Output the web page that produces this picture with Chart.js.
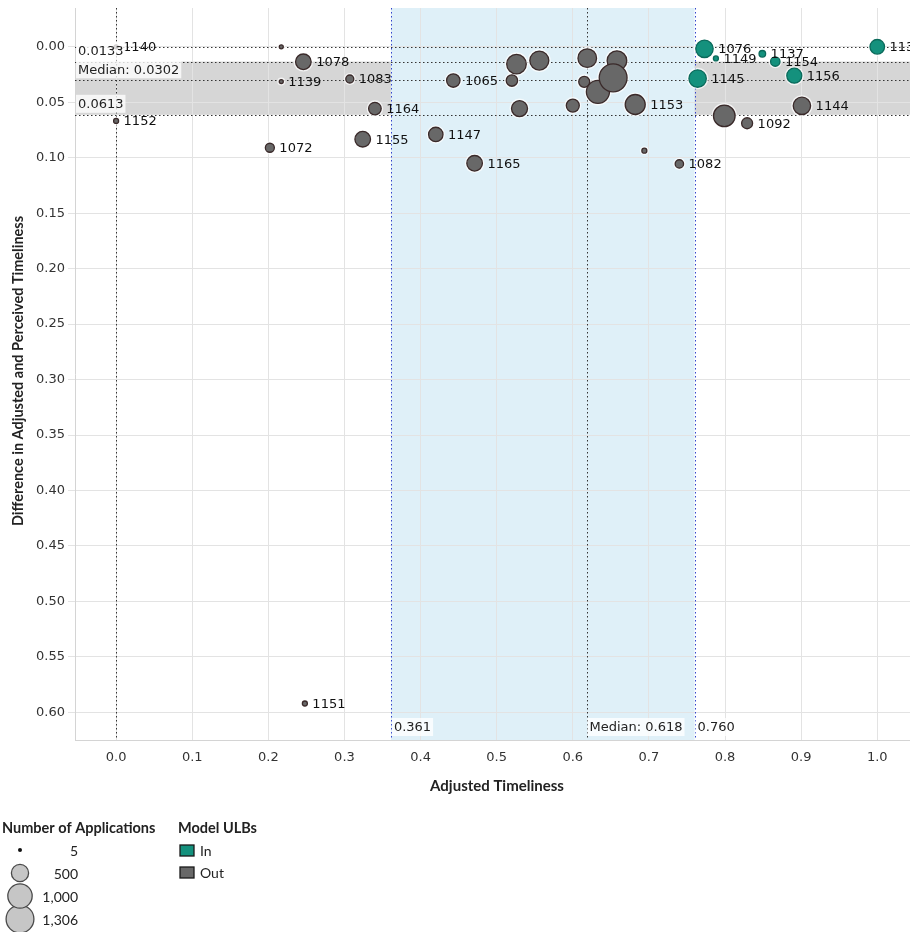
<!DOCTYPE html>
<html><head><meta charset="utf-8">
<script src="https://cdn.jsdelivr.net/npm/chart.js@4.4.1/dist/chart.umd.min.js"></script>
<style>html,body{margin:0;padding:0;background:#fff;}#wrap{position:relative;width:910px;height:932px;}</style>
</head><body><div id="wrap"><canvas id="c" width="910" height="932"></canvas></div>
<script>
// ---- data ----
const ulbIds = ['1140','','1078','1139','1083','1164','1155','1072','1152','1147','1165','1065','1151',
  '','','','','','','','','','','1153','','1082','','1092','1144',
  '1076','1149','1137','1154','1136','1145','1156'];
const timeliness = [0.000,0.217,0.246,0.217,0.307,0.340,0.324,0.202,0.000,0.420,0.471,0.443,0.248,
  0.526,0.520,0.556,0.530,0.600,0.619,0.658,0.615,0.633,0.653,0.682,0.694,0.740,0.799,0.829,0.901,
  0.773,0.788,0.849,0.866,1.000,0.764,0.891];
const difference = [0.0000,0.0000,0.0135,0.0313,0.0290,0.0557,0.0833,0.0910,0.0668,0.0790,0.1050,0.0304,0.5921,
  0.0156,0.0304,0.0124,0.0557,0.0530,0.0102,0.0125,0.0316,0.0406,0.0280,0.0520,0.0936,0.1056,0.0623,0.0689,0.0532,
  0.0018,0.0105,0.0063,0.0133,0.0000,0.0286,0.0260];
const applications = [5,5,410,5,108,268,410,137,42,350,410,303,42,
  648,219,609,432,285,583,650,204,900,1306,675,42,119,787,204,510,
  510,42,73,149,360,510,380];
const modelStatus = ['Out','Out','Out','Out','Out','Out','Out','Out','Out','Out','Out','Out','Out',
  'Out','Out','Out','Out','Out','Out','Out','Out','Out','Out','Out','Out','Out','Out','Out','Out',
  'In','In','In','In','In','In','In'];
const xTickValues = [0,0.1,0.2,0.3,0.4,0.5,0.6,0.7,0.8,0.9,1.0];
const yTickValues = [0,0.05,0.10,0.15,0.20,0.25,0.30,0.35,0.40,0.45,0.50,0.55,0.60];
const xBand = [0.361, 0.760];
const xMedian = 0.618;
const yBand = [0.0133, 0.0613];
const yMedian = 0.0302;
const sizeLegendValues = [5,500,1000,1306];
const sizeLegendLabels = ['5','500','1,000','1,306'];
const colorLegendLabels = ['In','Out'];

// ---- styling ----
const COLORS = {In:{fill:'#14917d',stroke:'#0b6a5b'}, Out:{fill:'#686868',stroke:'#3a2a2a'}};
const sizeR = n => Math.max(2, 0.385*Math.sqrt(n));

function buildData(status){
  const out=[];
  for(let i=0;i<ulbIds.length;i++){
    if(modelStatus[i]===status) out.push({x:timeliness[i], y:difference[i], r:sizeR(applications[i]), i});
  }
  return out;
}

const bandPlugin = {
  id:'bands',
  beforeDraw(chart){
    const {ctx, chartArea:a, scales:{x,y}} = chart;
    ctx.save();
    ctx.fillStyle='#d6d6d6';
    const y0=y.getPixelForValue(yBand[0]), y1=y.getPixelForValue(yBand[1]);
    ctx.fillRect(a.left, y0, a.right-a.left, y1-y0);
    ctx.fillStyle='#dff0f8';
    const x0=x.getPixelForValue(xBand[0]), x1=x.getPixelForValue(xBand[1]);
    ctx.fillRect(x0, a.top, x1-x0, a.bottom-a.top);
    ctx.restore();
  },
  beforeDatasetsDraw(chart){
    const {ctx, chartArea:a, scales:{x,y}} = chart;
    ctx.save();
    ctx.lineWidth=1;
    ctx.setLineDash([1.5,2.5]);
    ctx.strokeStyle='#333';
    [0, yBand[0], yMedian, yBand[1]].forEach(v=>{
      const p=Math.round(y.getPixelForValue(v))+0.5;
      ctx.beginPath(); ctx.moveTo(a.left,p); ctx.lineTo(a.right,p); ctx.stroke();
    });
    [0, xMedian].forEach(v=>{
      const p=Math.round(x.getPixelForValue(v))+0.5;
      ctx.beginPath(); ctx.moveTo(p,a.top); ctx.lineTo(p,a.bottom); ctx.stroke();
    });
    ctx.strokeStyle='#3344cc';
    xBand.forEach(v=>{
      const p=Math.round(x.getPixelForValue(v))+0.5;
      ctx.beginPath(); ctx.moveTo(p,a.top); ctx.lineTo(p,a.bottom); ctx.stroke();
    });
    ctx.setLineDash([]);
    // white halo around marks
    ctx.fillStyle='rgba(255,255,255,0.7)';
    chart.data.datasets.forEach((ds,di)=>{
      chart.getDatasetMeta(di).data.forEach(el=>{
        ctx.beginPath(); ctx.arc(el.x, el.y, el.options.radius+2, 0, Math.PI*2); ctx.fill();
      });
    });
    ctx.restore();
  },
  afterDatasetsDraw(chart){
    const {ctx, chartArea:a, scales:{x,y}} = chart;
    ctx.save();
    // mark labels
    ctx.font='13px "DejaVu Sans"';
    ctx.fillStyle='#111';
    ctx.textBaseline='middle';
    ctx.textAlign='left';
    chart.data.datasets.forEach((ds,di)=>{
      chart.getDatasetMeta(di).data.forEach((el,j)=>{
        const t=ulbIds[ds.data[j].i];
        if(t) ctx.fillText(t, el.x+el.options.radius+5, el.y+1);
      });
    });
    // reference line labels
    function box(text, lx, ly){
      const w=ctx.measureText(text).width;
      ctx.fillStyle='rgba(255,255,255,0.78)';
      ctx.fillRect(lx, ly-9, w+4, 18);
      ctx.fillStyle='#222';
      ctx.fillText(text, lx+2, ly+1);
    }
    ctx.font='13px "DejaVu Sans"';
    box(yBand[0].toFixed(4), a.left+1, y.getPixelForValue(yBand[0])-11);
    box('Median: '+yMedian.toFixed(4), a.left+1, y.getPixelForValue(yMedian)-11);
    box(yBand[1].toFixed(4), a.left+1, y.getPixelForValue(yBand[1])-11);
    box(xBand[0].toFixed(3), x.getPixelForValue(xBand[0])+1, a.bottom-13);
    box('Median: '+xMedian.toFixed(3), x.getPixelForValue(xMedian)+1, a.bottom-13);
    box(xBand[1].toFixed(3), x.getPixelForValue(xBand[1])+1, a.bottom-13);
    ctx.restore();
  },
  afterDraw(chart){
    const {ctx, chartArea:a} = chart;
    ctx.save();
    ctx.fillStyle='#222';
    ctx.textBaseline='middle';
    // axis titles
    ctx.font='bold 15px Lato';
    ctx.textAlign='center';
    ctx.fillText('Adjusted Timeliness', 497, 786);
    ctx.save();
    ctx.translate(18, 371);
    ctx.rotate(-Math.PI/2);
    ctx.font='bold 14.5px Lato';
    ctx.fillText('Difference in Adjusted and Perceived Timeliness', 0, 0);
    ctx.restore();
    // legends
    ctx.textAlign='left';
    ctx.font='bold 14.5px Lato';
    ctx.fillText('Number of Applications', 2, 828);
    ctx.fillText('Model ULBs', 178, 828);
    const ly=[850,873,896,919];
    for(let k=sizeLegendValues.length-1;k>=0;k--){
      const r=sizeR(sizeLegendValues[k]);
      ctx.beginPath(); ctx.arc(20, ly[k], r, 0, Math.PI*2);
      if(k===0){ ctx.fillStyle='#111'; ctx.fill(); }
      else { ctx.fillStyle='#c6c6c6'; ctx.fill(); ctx.lineWidth=1.3; ctx.strokeStyle='#4a4a4a'; ctx.stroke(); }
    }
    ctx.font='14px Lato';
    ctx.fillStyle='#222';
    ctx.textAlign='right';
    sizeLegendLabels.forEach((t,k)=>ctx.fillText(t, 78, ly[k]+1));
    ctx.textAlign='left';
    colorLegendLabels.forEach((t,k)=>{
      const yy=845+k*22;
      ctx.fillStyle=COLORS[t].fill; ctx.fillRect(180,yy,14,11);
      ctx.lineWidth=1.3; ctx.strokeStyle='#1a1a1a'; ctx.strokeRect(180,yy,14,11);
      ctx.fillStyle='#222'; ctx.fillText(t, 200, yy+6);
    });
    ctx.restore();
  }
};

new Chart(document.getElementById('c'), {
  type:'bubble',
  data:{datasets:[
    {label:'Out', data:buildData('Out'), backgroundColor:COLORS.Out.fill, borderColor:COLORS.Out.stroke, borderWidth:1.3},
    {label:'In', data:buildData('In'), backgroundColor:COLORS.In.fill, borderColor:COLORS.In.stroke, borderWidth:1.3}
  ]},
  options:{
    responsive:false, animation:false, clip:false,
    layout:{autoPadding:false, padding:{top:8,right:0,bottom:0,left:0}},
    plugins:{legend:{display:false}, tooltip:{enabled:false}},
    scales:{
      x:{type:'linear', min:-0.054, max:1.043,
        afterBuildTicks:s=>{s.ticks=xTickValues.map(v=>({value:v}));},
        afterFit:s=>{s.height=192; s.paddingLeft=0; s.paddingRight=0;},
        ticks:{callback:v=>Number(v).toFixed(1), font:{family:'DejaVu Sans', size:13}, color:'#333', padding:10, maxRotation:0, autoSkip:false},
        grid:{color:'#e3e3e3', drawTicks:false},
        border:{color:'#d4d4d4'}
      },
      y:{type:'linear', reverse:true, min:-0.035, max:0.625,
        afterBuildTicks:s=>{s.ticks=yTickValues.map(v=>({value:v}));},
        afterFit:s=>{s.width=75; s.paddingTop=0; s.paddingBottom=0;},
        ticks:{callback:v=>Number(v).toFixed(2), font:{family:'DejaVu Sans', size:13}, color:'#333', padding:3, autoSkip:false},
        grid:{color:'#e3e3e3', tickLength:7},
        border:{color:'#d4d4d4'}
      }
    }
  },
  plugins:[bandPlugin]
});
</script></body></html>
